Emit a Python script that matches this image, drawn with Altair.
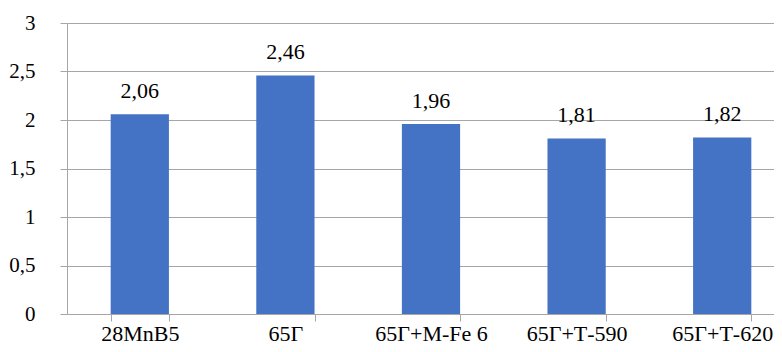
import altair as alt
import pandas as pd

categories = ["28MnB5", "65Г", "65Г+М-Fe 6", "65Г+Т-590", "65Г+Т-620"]
values = [2.06, 2.46, 1.96, 1.81, 1.82]

df = pd.DataFrame({"cat": categories, "value": values})

FONT = "Liberation Serif"
GRID = "#a6a6a6"

x = alt.X("cat:N", sort=categories, title=None,
          scale=alt.Scale(range=[0, 728], paddingInner=0.6, paddingOuter=0.3),
          axis=alt.Axis(labelAngle=0, labelFontSize=22, labelColor="#000000",
                        tickBand="extent", tickSize=7, tickColor=GRID, domainColor=GRID,
                        labelPadding=2, grid=False))
y = alt.Y("value:Q", title=None,
          scale=alt.Scale(domain=[0, 3], nice=False),
          axis=alt.Axis(values=[0, 0.5, 1, 1.5, 2, 2.5, 3],
                        labelExpr="replace(format(datum.value, '~g'), '.', ',')",
                        labelFontSize=21, labelColor="#000000",
                        tickSize=7, tickColor=GRID, domainColor=GRID, gridColor=GRID,
                        labelPadding=25))

bars = alt.Chart(df).mark_bar(color="#4472C4").encode(x=x, y=y)
text = alt.Chart(df).transform_calculate(
    lab="replace(format(datum.value, '.2f'), '.', ',')"
).mark_text(fontSize=22, baseline="bottom", dy=-11, color="#000000").encode(
    x=alt.X("cat:N", sort=categories), y="value:Q", text="lab:N")

chart = (bars + text).properties(
    width=707, height=291,
    autosize=alt.AutoSizeParams(type="none"),
    padding={"left": 59, "top": 15, "right": 0, "bottom": 32},
).configure(font=FONT).configure_axis(labelFont=FONT).configure_text(font=FONT).configure_view(stroke=None)

chart.save("out.html", embed_options={"renderer": "svg", "actions": False})
